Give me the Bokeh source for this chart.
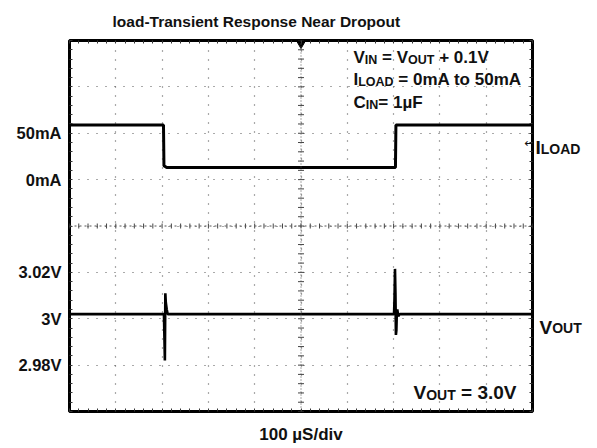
import numpy as np
from bokeh.plotting import figure
from bokeh.layouts import row, column
from bokeh.models import Range1d, FixedTicker, LinearAxis, Label, Span
from bokeh.embed import file_html
from bokeh.resources import INLINE

# ---------------- data ----------------
title_text = "load-Transient Response  Near Dropout"
x_label = "100 µS/div"

# scope time base: 100 µs/div, 10 divisions
t_range = (-500, 500)
t_per_div = 100
# vertical graticule: 8 divisions
div_range = (-4, 4)
# current channel: 50 mA/div (0 mA one division above centre)
i_range = (-250, 150)
# voltage channel: 20 mV/div (3 V two divisions below centre)
v_range = (2.96, 3.12)

# ILOAD trace (µs, mA)
iload_t = [-500, -297, -296, -290, 204, 205, 500]
iload_ma = [59, 59, 15, 13, 13, 59, 59]

# VOUT trace (µs, V)
vout_t = [-500, -296, -295, -294, -293, -292, -290, -288,
          201, 202, 203, 204, 205, 206, 207, 208, 210, 213, 500]
vout_v = [3.002, 3.002, 2.992, 2.982, 3.011, 3.007, 3.004, 3.002,
          3.002, 3.009, 3.0215, 3.011, 2.993, 2.995, 3.003, 3.004, 3.001, 3.002, 3.002]

trigger_t = [0]

# left tick labels
current_ticks = [50, 0]
current_tick_labels = ["50mA", "0mA"]
voltage_ticks = [3.02, 3.0, 2.98]
voltage_tick_labels = ["3.02V", "3V", "2.98V"]

# annotation texts: (text, is_subscript)
note_lines = [
    [("V", False), ("IN", True), (" = V", False), ("OUT", True), (" + 0.1V", False)],
    [("I", False), ("LOAD", True), (" = 0mA to 50mA", False)],
    [("C", False), ("IN", True), ("= 1µF", False)],
]
iload_tag = [("I", False), ("LOAD", True)]
vout_tag = [("V", False), ("OUT", True)]
vout_note = [("V", False), ("OUT", True), (" = 3.0V", False)]

# ---------------- helpers ----------------
FONT = "Liberation Sans"
INK = "#111111"
AB = {' ': 278, '+': 584, '.': 278, '=': 584, '-': 333, '/': 278, 'µ': 611,
      'A': 722, 'C': 722, 'D': 722, 'F': 611, 'I': 278, 'L': 611, 'N': 722,
      'O': 778, 'T': 611, 'U': 722, 'V': 667, 'S': 667,
      'a': 556, 'm': 889, 'o': 611, 't': 333, 'd': 611, 'i': 278, 'v': 556}


def tw(s, size):
    return sum(AB.get(c, 556) for c in s) * size / 1000.0


def to_div(v, rng):
    return round((v - rng[0]) / (rng[1] - rng[0]) * (div_range[1] - div_range[0]) + div_range[0], 6)


def rich(p, x, y, parts, size, sub_size, drop):
    for txt, sub in parts:
        fs = sub_size if sub else size
        lead = len(txt) - len(txt.lstrip(' '))
        x += tw(' ' * lead, fs)
        body = txt.strip(' ')
        p.add_layout(Label(x=x, y=y - (drop if sub else 0), x_units="screen", y_units="screen",
                           text=body, text_font=FONT, text_font_style="bold",
                           text_font_size=f"{fs}px", text_color=INK,
                           text_baseline="alphabetic", text_align="left"))
        x += tw(body, fs) + tw(' ' * (len(txt) - len(txt.rstrip(' '))), fs)


def blank_fig(w, h, **kw):
    f = figure(width=w, height=h, output_backend="svg", toolbar_location=None,
               title_location=None, x_axis_location=None, y_axis_location=None,
               background_fill_color="white", border_fill_color="white", **kw)
    f.outline_line_color = None
    f.grid.visible = False
    return f


W_TOTAL, W_MAIN, H_TITLE, H = 597, 534, 30, 418
W_TAGS = W_TOTAL - W_MAIN
B_LEFT, B_TOP, B_BOTTOM, B_RIGHT = 69, 10, 37, 2

# ---------------- title strip ----------------
t_fig = blank_fig(W_TOTAL, H_TITLE, x_range=Range1d(0, 1), y_range=Range1d(0, 1),
                  min_border_left=0, min_border_right=0, min_border_top=0, min_border_bottom=0)
t_fig.add_layout(Label(x=258, y=9, x_units="screen", y_units="screen", text=title_text,
                       text_font=FONT, text_font_style="bold", text_font_size="15.5px",
                       text_color=INK, text_align="center", text_baseline="alphabetic"))

# ---------------- main figure ----------------
p = figure(width=W_MAIN, height=H, output_backend="svg", toolbar_location=None,
           title_location=None,
           x_range=Range1d(*t_range), y_range=Range1d(*div_range),
           min_border_left=B_LEFT, min_border_right=B_RIGHT,
           min_border_top=B_TOP, min_border_bottom=B_BOTTOM,
           background_fill_color="white", border_fill_color="white")
p.extra_y_ranges = {"mA": Range1d(*i_range), "V": Range1d(*v_range)}
p.outline_line_color = "black"
p.outline_line_width = 3
p.outline_line_alpha = 1

x_minor = list(np.arange(t_range[0], t_range[1] + 1, t_per_div / 5))
y_minor = [round(v, 3) for v in np.arange(div_range[0], div_range[1] + 0.001, 0.2)]
x_major = list(range(t_range[0] + t_per_div, t_range[1], t_per_div))
y_major = list(range(div_range[0] + 1, div_range[1]))


def style_axis(ax):
    ax.axis_line_color = None
    ax.major_tick_line_color = None
    ax.major_tick_out = 0
    ax.major_tick_in = 0
    ax.minor_tick_in = 3
    ax.minor_tick_out = 0
    ax.minor_tick_line_color = "#333333"


# left axis with tick labels
tick_pos = [to_div(v, i_range) for v in current_ticks] + [to_div(v, v_range) for v in voltage_ticks]
tick_txt = current_tick_labels + voltage_tick_labels
ly = p.yaxis[0]
ly.ticker = FixedTicker(ticks=tick_pos, minor_ticks=y_minor)
ly.major_label_overrides = {k: t for k, t in zip(tick_pos, tick_txt)}
ly.major_label_text_font = FONT
ly.major_label_text_font_style = "bold"
ly.major_label_text_font_size = "16.5px"
ly.major_label_text_color = INK
ly.major_label_standoff = 8
style_axis(ly)

bx = p.xaxis[0]
bx.ticker = FixedTicker(ticks=[], minor_ticks=x_minor)
bx.major_label_standoff = 0
bx.axis_label = x_label
bx.axis_label_standoff = 13
bx.axis_label_text_font = FONT
bx.axis_label_text_font_style = "bold"
bx.axis_label_text_font_size = "17px"
bx.axis_label_text_color = INK
style_axis(bx)

ax_top = LinearAxis(ticker=FixedTicker(ticks=[], minor_ticks=x_minor), major_label_standoff=0)
style_axis(ax_top)
p.add_layout(ax_top, "above")
ax_right = LinearAxis(ticker=FixedTicker(ticks=[], minor_ticks=y_minor), major_label_standoff=0)
style_axis(ax_right)
p.add_layout(ax_right, "right")

# dotted graticule
p.xgrid.ticker = FixedTicker(ticks=x_major)
p.ygrid.ticker = FixedTicker(ticks=y_major)
for g in (p.xgrid[0], p.ygrid[0]):
    g.grid_line_color = "#555555"
    g.grid_line_dash = "1 8"
    g.grid_line_width = 1.2

# centre lines with minor marks
p.add_layout(Span(location=0, dimension="height", line_color="#555555", line_dash="1 2", line_width=1))
p.add_layout(Span(location=0, dimension="width", line_color="#555555", line_dash="2 3", line_width=1))
p.scatter(x=[0] * len(y_minor), y=y_minor, marker="dash", size=6, line_color="#444444", line_width=1)
p.scatter(x=x_minor, y=[0] * len(x_minor), marker="dash", angle=np.pi / 2, size=5,
          line_color="#444444", line_width=1)

# traces
p.line(iload_t, iload_ma, y_range_name="mA", line_color="black", line_width=3)
p.line(vout_t, vout_v, y_range_name="V", line_color="black", line_width=2.6)

# trigger marker
p.scatter(x=trigger_t, y=[div_range[1]], marker="inverted_triangle", size=14,
          fill_color="black", line_color="black")

# texts inside the graticule
for line, yb in zip(note_lines, [354, 332, 309]):
    rich(p, 284, yb, line, 17, 12.5, 2)
rich(p, 344, 19, vout_note, 19, 14, 2)
p.add_layout(Label(x=455, y=269, x_units="screen", y_units="screen", text="←",
                   text_font="DejaVu Sans", text_font_size="12px", text_color=INK,
                   text_baseline="middle", text_align="left"))

# ---------------- channel tags on the right ----------------
q = blank_fig(W_TAGS, H, x_range=Range1d(0, 1), y_range=p.y_range,
              min_border_left=0, min_border_right=0, min_border_top=B_TOP, min_border_bottom=B_BOTTOM)
rich(q, 1, 264, iload_tag, 19, 14, 1)
rich(q, 5, 84, vout_tag, 19, 14, 0)

layout = column(t_fig, row(p, q, spacing=0), spacing=0)
open("out.html", "w").write(file_html(layout, INLINE))
